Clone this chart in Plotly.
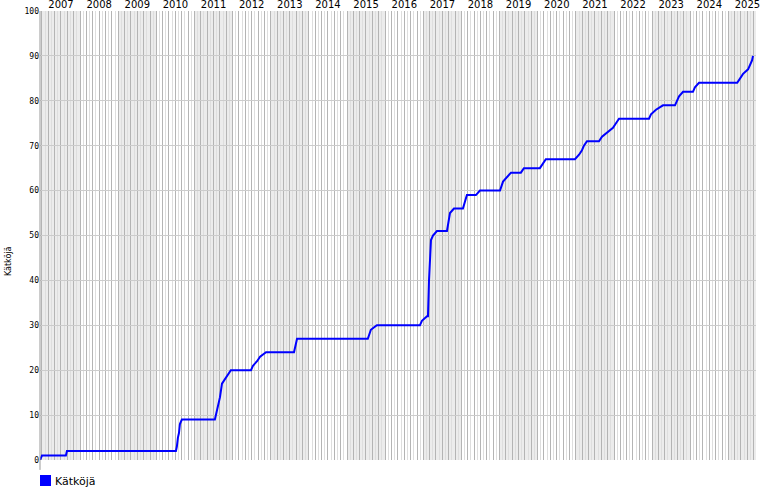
import plotly.graph_objects as go

# cumulative finds ("Kätköjä") over time
dates = [
    "2006-12-13", "2007-01-01", "2007-08-18", "2007-08-28", "2010-07-07", "2010-07-16", "2010-07-26",
    "2010-08-05", "2010-08-14", "2010-09-02", "2011-07-15", "2011-08-04", "2011-09-02",
    "2011-09-21", "2011-10-20", "2011-11-17", "2011-12-15", "2012-06-25", "2012-07-14",
    "2012-08-22", "2012-09-20", "2012-11-16", "2013-08-11", "2013-09-09", "2015-07-19",
    "2015-08-17", "2015-10-14", "2016-11-29", "2016-12-18", "2017-02-05", "2017-02-14",
    "2017-02-24", "2017-03-05", "2017-03-15", "2017-04-03", "2017-05-11", "2017-08-15",
    "2017-09-13", "2017-10-21", "2018-01-15", "2018-02-22", "2018-05-19", "2018-06-27",
    "2019-01-05", "2019-02-03", "2019-03-13", "2019-04-20", "2019-07-24", "2019-08-22",
    "2020-01-22", "2020-02-20", "2020-03-19", "2020-12-23", "2021-01-31", "2021-02-28",
    "2021-03-19", "2021-04-17", "2021-08-10", "2021-09-08", "2021-11-04", "2021-12-22",
    "2022-01-20", "2022-02-18", "2022-12-02", "2022-12-21", "2023-02-07", "2023-04-15",
    "2023-08-08", "2023-08-27", "2023-09-16", "2023-10-24", "2024-01-27", "2024-02-15",
    "2024-03-25", "2025-03-26", "2025-04-23", "2025-05-21", "2025-07-08", "2025-07-27",
    "2025-08-15", "2025-08-24",
]
finds = [
    0, 1, 1, 2, 2, 3, 5,
    6, 8, 9, 9, 11, 14,
    17, 18, 19, 20, 20, 21,
    22, 23, 24, 24, 27, 27,
    29, 30, 30, 31, 32, 32,
    40, 46, 49, 50, 51, 51,
    55, 56, 56, 59, 59, 60,
    60, 62, 63, 64, 64, 65,
    65, 66, 67, 67, 68, 69,
    70, 71, 71, 72, 73, 74,
    75, 76, 76, 77, 78, 79,
    79, 80, 81, 82, 82, 83,
    84, 84, 85, 86, 87, 88,
    89, 90,
]
years = list(range(2007, 2026))
series_name = "Kätköjä"

x_start, x_end = "2006-12-13", "2025-09-22"

fig = go.Figure()
fig.add_trace(go.Scatter(
    x=dates, y=finds, mode="lines", name=series_name,
    line=dict(color="#0000ff", width=2), showlegend=False,
))
# helper trace to carry the top (year label) axis
fig.add_trace(go.Scatter(x=[dates[0]], y=[None], xaxis="x2", showlegend=False, hoverinfo="skip"))

shapes = []
# alternating year shading
for y in years:
    if y % 2 == 1:
        shapes.append(dict(type="rect", xref="x", yref="paper",
                           x0=max(f"{y}-01-01", x_start), x1=min(f"{y+1}-01-01", x_end),
                           y0=0, y1=1, fillcolor="#ececec", line=dict(width=0), layer="below"))
# axis line extending below the plot
shapes.append(dict(type="line", xref="paper", yref="paper", x0=0, x1=0, y0=-0.022, y1=1,
                   line=dict(color="#999999", width=1)))
# legend swatch
shapes.append(dict(type="rect", xref="paper", yref="paper", x0=0, x1=0.0154,
                   y0=-0.0579, y1=-0.0334, fillcolor="#0000ff", line=dict(width=0)))

fig.update_layout(
    width=770, height=500,
    margin=dict(l=40, r=14, t=11, b=40, autoexpand=False),
    paper_bgcolor="white", plot_bgcolor="white",
    shapes=shapes,
    xaxis=dict(
        type="date", range=[x_start, x_end], automargin=False,
        showticklabels=False, ticks="",
        tick0="2007-01-01", dtick="M2",
        showgrid=True, gridcolor="#b4b4b4", gridwidth=1,
        minor=dict(dtick="M1", tick0="2007-01-01", showgrid=True, gridcolor="#dedede", gridwidth=1),
        zeroline=False, showline=False, fixedrange=True,
    ),
    xaxis2=dict(
        type="date", range=[x_start, x_end], overlaying="x", side="top", automargin=False,
        tickmode="array",
        tickvals=[f"{y}-07-02" for y in years],
        ticktext=[str(y) for y in years],
        tickfont=dict(family="DejaVu Sans", size=10, color="black"),
        ticks="", showgrid=False, zeroline=False, showline=False,
    ),
    yaxis=dict(
        range=[0, 100], tick0=0, dtick=10, automargin=False,
        tickfont=dict(family="DejaVu Sans Mono", size=8, color="black"),
        showgrid=True, gridcolor="#cccccc", gridwidth=1,
        zeroline=False, showline=False, ticks="",
    ),
    annotations=[
        dict(text=series_name, xref="paper", yref="paper", x=-0.0447, y=0.443,
             textangle=-90, showarrow=False, xanchor="center", yanchor="middle",
             font=dict(family="DejaVu Sans", size=8, color="black")),
        dict(text=series_name, xref="paper", yref="paper", x=0.0185, y=-0.0468,
             showarrow=False, xanchor="left", yanchor="middle",
             font=dict(family="DejaVu Sans", size=11, color="black")),
    ],
)

fig.write_html("out.html", config={"displayModeBar": False},
               post_script="document.body.style.margin='0';")
